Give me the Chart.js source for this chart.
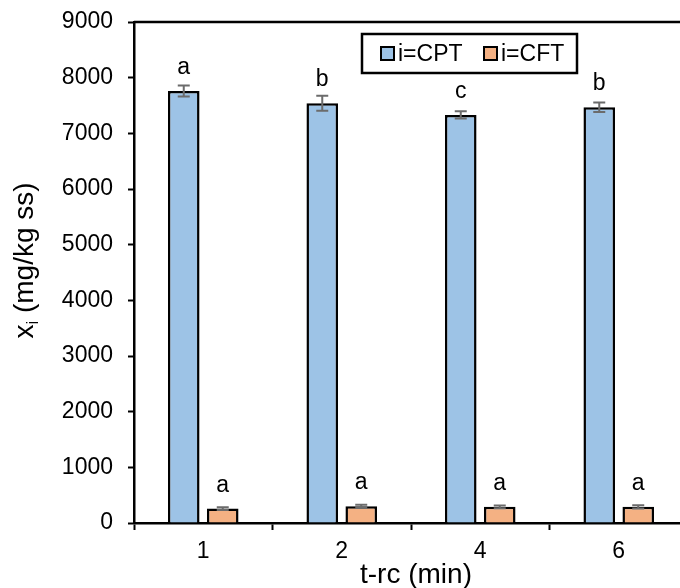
<!DOCTYPE html>
<html>
<head>
<meta charset="utf-8">
<script src="https://cdn.jsdelivr.net/npm/chart.js@4.4.1/dist/chart.umd.min.js"></script>
<style>
  html, body { margin: 0; padding: 0; overflow: hidden; background: #fff; }
  #wrap { width: 700px; height: 588px; }
</style>
</head>
<body>
<div id="wrap"><canvas id="chart" width="700" height="588"></canvas></div>
<script>
// t-rc categories (min)
const categories = ['1', '2', '4', '6'];

// CPT series + std dev + significance letters
const cptValues = [7760, 7540, 7330, 7470];
const cptErrors = [100, 135, 65, 85];
const cptLetters = ['a', 'b', 'c', 'b'];

// CFT series
const cftValues = [260, 300, 290, 290];
const cftErrors = [25, 30, 25, 30];
const cftLetters = ['a', 'a', 'a', 'a'];

const yTicks = [0, 1000, 2000, 3000, 4000, 5000, 6000, 7000, 8000, 9000];

const FONT = '"Liberation Sans", Arial, sans-serif';
const CPT_COLOR = '#9DC3E6';
const CFT_COLOR = '#F4B183';

// error bars, letters, frame, legend and axis titles
const extras = {
    id: 'extras',
    afterDatasetsDraw(chart) {
        const ctx = chart.ctx;
        const y = chart.scales.y;
        const sets = [
            { vals: cptValues, errs: cptErrors, letters: cptLetters },
            { vals: cftValues, errs: cftErrors, letters: cftLetters }
        ];
        ctx.save();
        sets.forEach((s, di) => {
            chart.getDatasetMeta(di).data.forEach((bar, i) => {
                const top = y.getPixelForValue(s.vals[i] + s.errs[i]);
                const bot = y.getPixelForValue(s.vals[i] - s.errs[i]);
                ctx.strokeStyle = '#6b6b6b';
                ctx.lineWidth = 2;
                ctx.beginPath();
                ctx.moveTo(bar.x, top); ctx.lineTo(bar.x, bot);
                ctx.moveTo(bar.x - 6, top); ctx.lineTo(bar.x + 6, top);
                ctx.moveTo(bar.x - 6, bot); ctx.lineTo(bar.x + 6, bot);
                ctx.stroke();

                ctx.fillStyle = '#000';
                ctx.font = '23px ' + FONT;
                ctx.textAlign = 'center';
                ctx.textBaseline = 'alphabetic';
                ctx.fillText(s.letters[i], bar.x, y.getPixelForValue(s.vals[i]) - 17);
            });
        });
        ctx.restore();
    },
    afterDraw(chart) {
        const ctx = chart.ctx;
        const a = chart.chartArea;
        ctx.save();

        // top frame line
        ctx.strokeStyle = '#000';
        ctx.lineWidth = 2.5;
        ctx.beginPath();
        ctx.moveTo(a.left, a.top);
        ctx.lineTo(a.right, a.top);
        ctx.stroke();

        // legend
        const lx = a.left + 228, ly = a.top + 12;
        ctx.lineWidth = 2.5;
        ctx.strokeRect(lx, ly, 215, 39);
        ctx.font = '23px ' + FONT;
        ctx.textAlign = 'left';
        ctx.textBaseline = 'middle';
        const items = [
            { x: lx + 19, color: CPT_COLOR, text: chart.data.datasets[0].label },
            { x: lx + 122, color: CFT_COLOR, text: chart.data.datasets[1].label }
        ];
        items.forEach(it => {
            ctx.fillStyle = it.color;
            ctx.fillRect(it.x, ly + 13, 13, 13);
            ctx.lineWidth = 2;
            ctx.strokeRect(it.x, ly + 13, 13, 13);
            ctx.fillStyle = '#000';
            ctx.fillText(it.text, it.x + 17, ly + 20.5);
        });

        // x title
        ctx.font = '28px ' + FONT;
        ctx.textAlign = 'center';
        ctx.textBaseline = 'alphabetic';
        ctx.fillText('t-rc (min)', (a.left + a.right) / 2 + 5, 583);

        // y title with subscript i
        ctx.translate(33, (a.top + a.bottom) / 2 - 12);
        ctx.rotate(-Math.PI / 2);
        ctx.textAlign = 'left';
        const big = '28px ' + FONT, small = '17px ' + FONT;
        ctx.font = big;
        const w1 = ctx.measureText('x').width;
        const w3 = ctx.measureText(' (mg/kg ss)').width;
        ctx.font = small;
        const w2 = ctx.measureText('i').width;
        let x0 = -(w1 + w2 + w3) / 2;
        ctx.font = big;
        ctx.fillText('x', x0, 0);
        ctx.font = small;
        ctx.fillText('i', x0 + w1, 5);
        ctx.font = big;
        ctx.fillText(' (mg/kg ss)', x0 + w1 + w2, 0);

        ctx.restore();
    }
};

new Chart(document.getElementById('chart'), {
    type: 'bar',
    data: {
        labels: categories,
        datasets: [
            {
                label: 'i=CPT',
                data: cptValues,
                backgroundColor: CPT_COLOR,
                borderColor: '#000',
                borderWidth: 2.5,
                categoryPercentage: 0.563,
                barPercentage: 0.81
            },
            {
                label: 'i=CFT',
                data: cftValues,
                backgroundColor: CFT_COLOR,
                borderColor: '#000',
                borderWidth: 2.5,
                categoryPercentage: 0.563,
                barPercentage: 0.81
            }
        ]
    },
    options: {
        responsive: false,
        animation: false,
        layout: { padding: { top: 22, right: 12, left: 0, bottom: 0 } },
        plugins: {
            legend: { display: false },
            tooltip: { enabled: false }
        },
        scales: {
            x: {
                grid: {
                    offset: true,
                    drawOnChartArea: false,
                    tickLength: 7,
                    tickWidth: 2,
                    tickColor: '#000'
                },
                border: { color: '#000', width: 2.5 },
                ticks: { color: '#000', font: { family: FONT, size: 23 }, padding: 8 },
                afterFit(scale) {
                    scale.height = 65;
                    scale.paddingLeft = 0;
                    scale.paddingRight = 0;
                }
            },
            y: {
                min: 0,
                max: 9000,
                afterBuildTicks(scale) { scale.ticks = yTicks.map(v => ({ value: v })); },
                grid: {
                    drawOnChartArea: false,
                    tickLength: 6,
                    tickWidth: 2,
                    tickColor: '#000'
                },
                border: { color: '#000', width: 2.5 },
                ticks: {
                    color: '#000',
                    font: { family: FONT, size: 23 },
                    padding: 15,
                    callback: v => String(v)
                },
                afterFit(scale) {
                    scale.width = 134;
                    scale.paddingTop = 0;
                    scale.paddingBottom = 0;
                }
            }
        }
    },
    plugins: [extras]
});
</script>
</body>
</html>
